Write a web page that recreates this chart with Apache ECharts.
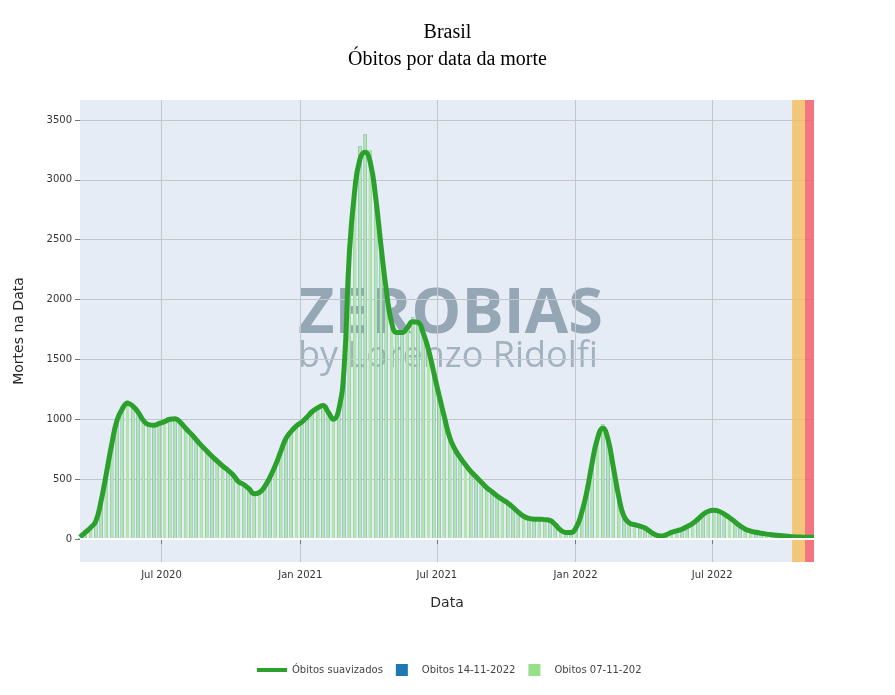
<!DOCTYPE html>
<html>
<head>
<meta charset="utf-8">
<title>Brasil - Óbitos por data da morte</title>
<script src="https://cdn.jsdelivr.net/npm/echarts@6/dist/echarts.min.js"></script>
<style>
  html, body { margin: 0; padding: 0; background: #fff; }
  #chart { width: 895px; height: 695px; }
</style>
</head>
<body>
<div id="chart"></div>
<script>
// semanas (início) de 15/03/2020 a 13/11/2022
const dates = [
  "2020-03-15","2020-03-22","2020-03-29","2020-04-05","2020-04-12","2020-04-19","2020-04-26","2020-05-03","2020-05-10","2020-05-17",
  "2020-05-24","2020-05-31","2020-06-07","2020-06-14","2020-06-21","2020-06-28","2020-07-05","2020-07-12","2020-07-19","2020-07-26",
  "2020-08-02","2020-08-09","2020-08-16","2020-08-23","2020-08-30","2020-09-06","2020-09-13","2020-09-20","2020-09-27","2020-10-04",
  "2020-10-11","2020-10-18","2020-10-25","2020-11-01","2020-11-08","2020-11-15","2020-11-22","2020-11-29","2020-12-06","2020-12-13",
  "2020-12-20","2020-12-27","2021-01-03","2021-01-10","2021-01-17","2021-01-24","2021-01-31","2021-02-07","2021-02-14","2021-02-21",
  "2021-02-28","2021-03-07","2021-03-14","2021-03-21","2021-03-28","2021-04-04","2021-04-11","2021-04-18","2021-04-25","2021-05-02",
  "2021-05-09","2021-05-16","2021-05-23","2021-05-30","2021-06-06","2021-06-13","2021-06-20","2021-06-27","2021-07-04","2021-07-11",
  "2021-07-18","2021-07-25","2021-08-01","2021-08-08","2021-08-15","2021-08-22","2021-08-29","2021-09-05","2021-09-12","2021-09-19",
  "2021-09-26","2021-10-03","2021-10-10","2021-10-17","2021-10-24","2021-10-31","2021-11-07","2021-11-14","2021-11-21","2021-11-28",
  "2021-12-05","2021-12-12","2021-12-19","2021-12-26","2022-01-02","2022-01-09","2022-01-16","2022-01-23","2022-01-30","2022-02-06",
  "2022-02-13","2022-02-20","2022-02-27","2022-03-06","2022-03-13","2022-03-20","2022-03-27","2022-04-03","2022-04-10","2022-04-17",
  "2022-04-24","2022-05-01","2022-05-08","2022-05-15","2022-05-22","2022-05-29","2022-06-05","2022-06-12","2022-06-19","2022-06-26",
  "2022-07-03","2022-07-10","2022-07-17","2022-07-24","2022-07-31","2022-08-07","2022-08-14","2022-08-21","2022-08-28","2022-09-04",
  "2022-09-11","2022-09-18","2022-09-25","2022-10-02","2022-10-09","2022-10-16","2022-10-23","2022-10-30","2022-11-06","2022-11-13"
];

// curva suavizada
const suavizados = [
  15, 55, 95, 150, 320, 550, 790, 990, 1085, 1135,
  1110, 1060, 990, 955, 950, 965, 980, 1000, 1005, 975,
  925, 880, 830, 780, 735, 690, 650, 610, 575, 535,
  480, 455, 420, 378, 390, 440, 520, 615, 730, 840,
  900, 945, 977, 1020, 1065, 1095, 1115, 1060, 1000, 1080,
  1420, 2380, 2900, 3170, 3230, 3140, 2850, 2450, 2080, 1810,
  1725, 1725, 1765, 1815, 1810, 1720, 1580, 1390, 1200, 1020,
  850, 750, 680, 620, 565, 520, 475, 430, 395, 360,
  330, 300, 265, 225, 190, 172, 166, 165, 162, 155,
  120, 75, 55, 55, 100, 220, 400, 640, 840, 925,
  830, 600, 360, 190, 135, 120, 108, 92, 62, 35,
  25, 35, 55, 68, 82, 105, 130, 165, 205, 232,
  240, 232, 208, 178, 145, 110, 82, 66, 56, 48,
  41, 36, 31, 27, 23, 19, 17, 15, 14, 14
];

// boletim 07-11-2022
const obitos0711 = [
  8, 45, 90, 160, 330, 580, 820, 1010, 1110, 1160,
  1120, 1050, 975, 940, 935, 955, 975, 995, 1000, 960,
  910, 865, 815, 770, 720, 680, 640, 600, 560, 520,
  470, 445, 410, 372, 385, 445, 530, 630, 745, 850,
  910, 955, 985, 1030, 1080, 1105, 1120, 1050, 990, 1110,
  1480, 2450, 3000, 3280, 3380, 3250, 2880, 2430, 2040, 1780,
  1720, 1730, 1790, 1850, 1830, 1710, 1560, 1360, 1170, 990,
  830, 735, 670, 610, 555, 510, 465, 420, 385, 350,
  320, 290, 255, 215, 180, 165, 160, 160, 158, 150,
  110, 65, 45, 50, 110, 240, 430, 680, 880, 960,
  840, 590, 340, 175, 130, 115, 104, 88, 58, 32,
  22, 33, 53, 66, 80, 102, 128, 165, 208, 236,
  244, 234, 206, 175, 140, 106, 79, 63, 53, 45,
  38, 32, 27, 22, 16, 11, 7, 4, 2, 1
];

// boletim 14-11-2022 (fica por baixo das barras verdes)
const obitos1411 = obitos0711.slice();

const yTicks = [0, 500, 1000, 1500, 2000, 2500, 3000, 3500];
const xTicks = ["2020-07-01", "2021-01-01", "2021-07-01", "2022-01-01", "2022-07-01"];
const meses = ["Jan", "Feb", "Mar", "Apr", "May", "Jun", "Jul", "Aug", "Sep", "Oct", "Nov", "Dec"];
const faixaLaranja = ["2022-10-15", "2022-11-01"];
const faixaVermelha = ["2022-11-01", "2022-11-13"];

const font = "DejaVu Sans";
// quadrado centrado numa caixa de 30x12 (os M só marcam a caixa)
const squareIcon = "path://M0,0M30,12M9,0h12v12h-12z";
const lineIcon = "path://M0,0h30v4h-30z";
const ts = d => new Date(d + "T00:00:00").getTime();

let myChart = echarts.init(document.getElementById("chart"));
myChart.setOption({
    animation: false,
    title: {
        text: "Brasil\nÓbitos por data da morte",
        left: "center",
        top: 14,
        textStyle: {
            fontFamily: "Liberation Serif",
            fontSize: 20,
            fontWeight: "normal",
            color: "#000",
            lineHeight: 27
        }
    },
    legend: {
        left: 252,
        top: 659,
        itemWidth: 30,
        itemHeight: 12,
        itemGap: 4,
        textStyle: { fontFamily: font, fontSize: 10, color: "#444" },
        data: [
            { name: "Óbitos suavizados", icon: lineIcon, itemStyle: { color: "#2ca02c" } },
            { name: "Obitos 14-11-2022", icon: squareIcon, itemStyle: { color: "#1f77b4" } },
            { name: "Obitos 07-11-2022", icon: squareIcon, itemStyle: { color: "#98df8a" },
              textStyle: { width: 91, overflow: "truncate", ellipsis: "" } }
        ]
    },
    grid: {
        left: 80,
        right: 81,
        top: 100,
        bottom: 133,
        show: true,
        z: -2,
        backgroundColor: "#e5ecf6",
        borderWidth: 0
    },
    graphic: [
        {
            type: "text", left: 298, top: 284, z: -1, silent: true,
            style: { text: "ZEROBIAS", font: 'bold 63px "Open Sans"', fill: "#95a6b5" }
        },
        {
            type: "text", left: 298, top: 339, z: -1, silent: true,
            style: { text: "by Lorenzo Ridolfi", font: '36px "Open Sans"', fill: "#a2b2bf" }
        }
    ],
    xAxis: {
        type: "value",
        min: ts("2020-03-15"),
        max: ts("2022-11-13"),
        name: "Data",
        nameLocation: "middle",
        nameGap: 34,
        nameTextStyle: { fontFamily: font, fontSize: 14, color: "#2a2a2a" },
        axisLine: { show: false },
        axisTick: {
            show: true, length: 5,
            lineStyle: { color: "#777" },
            customValues: xTicks.map(ts)
        },
        axisLabel: {
            fontFamily: font, fontSize: 10, color: "#333", margin: 8,
            customValues: xTicks.map(ts),
            formatter: function (v) {
                let d = new Date(v);
                return meses[d.getMonth()] + " " + d.getFullYear();
            }
        },
        splitLine: { show: true, lineStyle: { color: "#c4c6cc", width: 1 } }
    },
    yAxis: {
        type: "value",
        min: -192,
        max: 3667,
        name: "Mortes na Data",
        nameLocation: "middle",
        nameGap: 54,
        nameTextStyle: { fontFamily: font, fontSize: 14, color: "#2a2a2a" },
        axisLine: { show: false },
        axisTick: {
            show: true, length: 5,
            lineStyle: { color: "#777" },
            customValues: yTicks
        },
        axisLabel: {
            fontFamily: font, fontSize: 10, color: "#333", margin: 8,
            customValues: yTicks,
            formatter: v => String(v)
        },
        splitLine: { show: true, lineStyle: { color: "#c4c6cc", width: 1 } }
    },
    series: [
        {
            name: "Óbitos suavizados",
            type: "line",
            data: dates.map((d, i) => [ts(d), suavizados[i]]),
            smooth: true,
            showSymbol: false,
            symbol: "none",
            z: 4,
            itemStyle: { color: "#2ca02c" },
            lineStyle: { color: "#2ca02c", width: 5 }
        },
        {
            name: "Obitos 14-11-2022",
            type: "bar",
            data: dates.map((d, i) => [ts(d), obitos1411[i]]),
            barWidth: 3,
            barGap: "-100%",
            z: 2,
            itemStyle: { color: "#1f77b4" }
        },
        {
            name: "Obitos 07-11-2022",
            type: "bar",
            data: dates.map((d, i) => [ts(d), obitos0711[i]]),
            barWidth: 3,
            barGap: "-100%",
            z: 3,
            itemStyle: { color: "#b4e5ac" },
            markLine: {
                silent: true,
                symbol: "none",
                label: { show: false },
                lineStyle: { color: "#fff", width: 2, type: "solid" },
                data: [{ yAxis: 0 }]
            },
            markArea: {
                silent: true,
                data: [
                    [{ xAxis: ts(faixaLaranja[0]), itemStyle: { color: "rgba(245,190,91,0.8)" } }, { xAxis: ts(faixaLaranja[1]) }],
                    [{ xAxis: ts(faixaVermelha[0]), itemStyle: { color: "rgba(248,88,98,0.8)" } }, { xAxis: ts(faixaVermelha[1]) }]
                ]
            }
        }
    ]
});
</script>
</body>
</html>
